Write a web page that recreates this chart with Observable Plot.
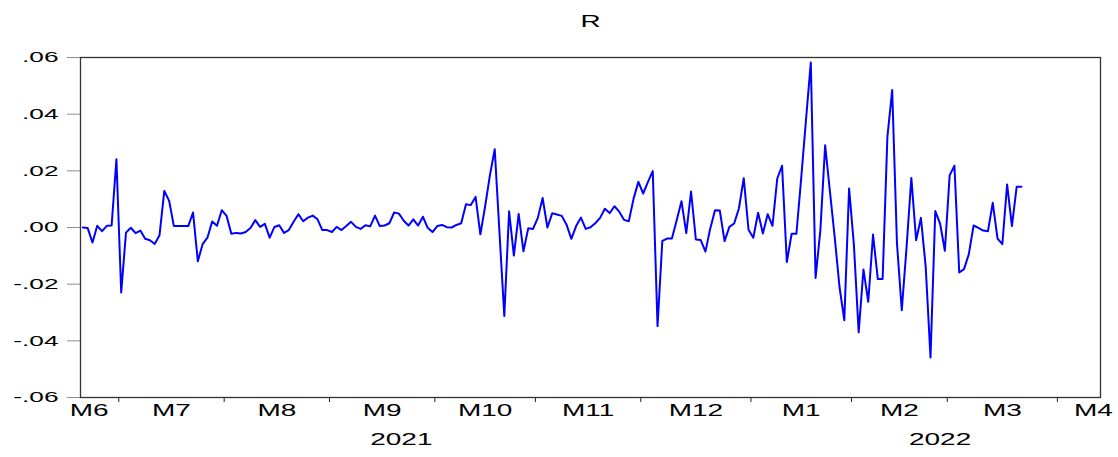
<!DOCTYPE html>
<html><head><meta charset="utf-8">
<script src="https://cdn.jsdelivr.net/npm/d3@7"></script>
<script src="https://cdn.jsdelivr.net/npm/@observablehq/plot@0.6"></script>
<style>body{margin:0;background:#fff} svg{display:block}</style>
</head><body><div id="chart"></div>
<script>
const title = "R";
const R = [
 0.0000,-0.0002,-0.0053,0.0006,-0.0013,0.0006,0.0007,0.0241,-0.0229,-0.0018,
 -0.0001,-0.0020,-0.0011,-0.0040,-0.0045,-0.0058,-0.0027,0.0129,0.0095,0.0005,
 0.0005,0.0005,0.0005,0.0053,-0.0119,-0.0059,-0.0036,0.0021,0.0006,0.0061,
 0.0041,-0.0022,-0.0019,-0.0021,-0.0016,-0.0002,0.0026,0.0002,0.0013,-0.0036,
 0.0002,0.0008,-0.0019,-0.0009,0.0020,0.0047,0.0022,0.0035,0.0042,0.0029,
 -0.0009,-0.0009,-0.0016,0.0002,-0.0009,0.0005,0.0020,0.0002,-0.0005,0.0008,
 0.0004,0.0042,0.0005,0.0007,0.0015,0.0053,0.0049,0.0024,0.0007,0.0029,
 0.0007,0.0038,-0.0001,-0.0016,0.0005,0.0009,0.0001,0.0000,0.0009,0.0015,
 0.0082,0.0079,0.0108,-0.0024,0.0075,0.0185,0.0276,-0.0020,-0.0312,0.0057,
 -0.0099,0.0048,-0.0084,-0.0003,-0.0005,0.0034,0.0104,0.0000,0.0050,0.0046,
 0.0041,0.0010,-0.0040,0.0005,0.0035,-0.0005,0.0001,0.0015,0.0034,0.0066,
 0.0051,0.0075,0.0056,0.0027,0.0022,0.0102,0.0161,0.0120,0.0161,0.0199,
 -0.0348,-0.0047,-0.0039,-0.0039,0.0026,0.0093,-0.0020,0.0127,-0.0042,-0.0044,
 -0.0085,-0.0004,0.0061,0.0060,-0.0048,0.0002,0.0014,0.0068,0.0174,-0.0008,
 -0.0036,0.0052,-0.0021,0.0047,0.0006,0.0173,0.0218,-0.0122,-0.0022,-0.0022,
 0.0174,0.0380,0.0582,-0.0178,-0.0010,0.0290,0.0127,-0.0035,-0.0210,-0.0327,
 0.0138,-0.0060,-0.0370,-0.0148,-0.0262,-0.0025,-0.0182,-0.0182,0.0320,0.0485,
 -0.0056,-0.0292,-0.0070,0.0175,-0.0045,0.0034,-0.0139,-0.0459,0.0058,0.0014,
 -0.0082,0.0184,0.0218,-0.0159,-0.0147,-0.0094,0.0007,-0.0001,-0.0011,-0.0013,
 0.0087,-0.0039,-0.0059,0.0152,0.0005,0.0144,0.0144
];
const monthLabels = ["M6","M7","M8","M9","M10","M11","M12","M1","M2","M3","M4"];
const monthObs = [8,22,22,22,21,22,23,21,20,23,9];
const yearLabels = ["2021","2022"];
const yTicks = [-0.06,-0.04,-0.02,0,0.02,0.04,0.06];

const starts = []; let acc = 0;
for (const n of monthObs) { starts.push(acc - 0.5); acc += n; }
const end = acc - 0.5;
const boundaries = starts.slice(1);
const data = R.map((r, i) => ({i, r}));
const last = monthLabels.length - 1;
const monthText = monthLabels.map((m, k) => ({
  label: m,
  x: k === 0 ? starts[1] - 6.2 : k === last ? starts[k] + 7.5 : (starts[k] + starts[k + 1]) / 2
}));
const yearText = [
  {label: yearLabels[0], x: (starts[0] + starts[7]) / 2 - 3},
  {label: yearLabels[1], x: (starts[7] + end) / 2 + 3}
];
const fmt = d => (d < 0 ? "-" : "") + Math.abs(d).toFixed(2).slice(1);

const svg = Plot.plot({
  width: 1118, height: 457,
  marginTop: 57, marginBottom: 60, marginLeft: 80, marginRight: 18,
  style: {fontFamily: "'Liberation Sans', Arial, sans-serif", fontSize: "15px", color: "black", background: "white"},
  x: {domain: [-0.5, end]},
  y: {domain: [-0.06, 0.06]},
  marks: [
    Plot.axisY({ticks: yTicks, tickSize: 13, tickPadding: 9, tickFormat: fmt, stroke: "#8c8c8c", fill: "black", label: null, fontSize: 15}),
    Plot.axisX({ticks: boundaries, tickSize: 5, tickFormat: () => "", label: null, stroke: "#222"}),
    Plot.line(data, {x: "i", y: "r", stroke: "#0000ff", strokeWidth: 2}),
    Plot.frame({stroke: "#333", strokeWidth: 1.3}),
    Plot.text(monthText, {x: "x", text: "label", frameAnchor: "bottom", dy: 18, fontSize: 16}),
    Plot.text(yearText, {x: "x", text: "label", frameAnchor: "bottom", dy: 47, fontSize: 16}),
    Plot.text([title], {frameAnchor: "top", dy: -42, fontSize: 16})
  ]
});
const S = 1.75;
svg.querySelectorAll("text").forEach(t => {
  const x = +(t.getAttribute("x") || 0);
  const tr = t.getAttribute("transform") || "";
  t.setAttribute("transform", `${tr} translate(${x},0) scale(${S},1) translate(${-x},0)`);
});
document.getElementById("chart").appendChild(svg);
</script>
</body></html>
